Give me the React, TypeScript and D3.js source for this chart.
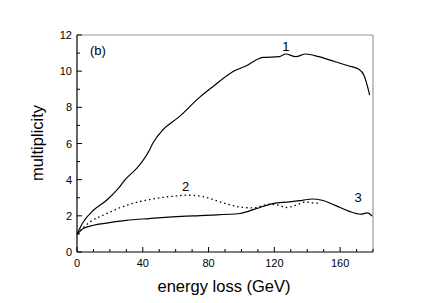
import React from "react";
import * as d3 from "d3";

const curve1X = [0, 3.8, 10, 18, 25, 29, 38, 44, 46, 52, 62, 74.5, 82.6, 94.7, 103, 113, 123, 127, 133, 139, 147, 157, 165, 171.5, 174.5, 178];
const curve1Y = [1.0, 1.66, 2.31, 2.86, 3.5, 3.97, 4.8, 5.63, 6.0, 6.74, 7.47, 8.55, 9.14, 9.97, 10.3, 10.76, 10.8, 10.95, 10.8, 10.95, 10.8, 10.52, 10.3, 10.1, 9.78, 8.68];

const curve2X = [0, 3.8, 7.9, 18, 30, 44, 58, 66, 72, 80, 87, 99, 107, 117, 123, 127, 133, 139, 143, 148];
const curve2Y = [1.0, 1.35, 1.66, 2.12, 2.58, 2.9, 3.08, 3.14, 3.12, 2.98, 2.77, 2.49, 2.44, 2.64, 2.58, 2.46, 2.58, 2.77, 2.72, 2.68];

const curve3X = [0, 3.8, 10, 18, 30, 44, 58, 78, 99, 109, 119, 129, 137, 143, 149, 157, 165.5, 172.5, 176.5, 179.5];
const curve3Y = [0.98, 1.3, 1.48, 1.6, 1.75, 1.85, 1.94, 2.03, 2.13, 2.4, 2.68, 2.77, 2.86, 2.93, 2.86, 2.58, 2.25, 2.09, 2.16, 1.98];

const xTicks = [0, 40, 80, 120, 160];
const yTicks = [0, 2, 4, 6, 8, 10, 12];
const curveLabels = ["1", "2", "3"];
const labelX = [127, 66, 171];
const labelY = [11.1, 3.4, 2.75];

const W = 434, H = 303;
const L = 77, R = 373, T = 35, B = 252;

export default function App() {
  const x = d3.scaleLinear().domain([0, 180]).range([L, R]);
  const y = d3.scaleLinear().domain([0, 12]).range([B, T]);
  const line = d3.line<[number, number]>().x(d => x(d[0])).y(d => y(d[1])).curve(d3.curveMonotoneX);
  const pts = (xs: number[], ys: number[]) => xs.map((v, i) => [v, ys[i]] as [number, number]);
  const font = "'Liberation Sans', Arial, sans-serif";
  const xMinor = d3.range(0, 181, 10);
  const yMinor = d3.range(0, 12.1, 1);
  return (
    <svg width={W} height={H} style={{ position: "absolute", left: 0, top: 0, background: "#fff" }} fontFamily={font}>
      <rect x={0} y={0} width={W} height={H} fill="#fff" />
      <line x1={L} y1={T} x2={R} y2={T} stroke="#999" strokeWidth={1.2} />
      <line x1={R} y1={T} x2={R} y2={B} stroke="#999" strokeWidth={1.2} />
      <line x1={L} y1={T} x2={L} y2={B} stroke="#000" strokeWidth={1.2} />
      <line x1={L} y1={B} x2={R} y2={B} stroke="#000" strokeWidth={1.2} />
      {xMinor.map(v => (
        <line key={"xm" + v} x1={x(v)} x2={x(v)} y1={B} y2={B - (v % 40 === 0 ? 5 : 3)} stroke="#000" strokeWidth={1} />
      ))}
      {yMinor.map(v => (
        <line key={"ym" + v} x1={L} x2={L + (v % 2 === 0 ? 5 : 3)} y1={y(v)} y2={y(v)} stroke="#000" strokeWidth={1} />
      ))}
      {xTicks.map(v => (
        <text key={"xt" + v} x={x(v)} y={B + 15} textAnchor="middle" fontSize={11}>{v}</text>
      ))}
      {yTicks.map(v => (
        <text key={"yt" + v} x={L - 5} y={y(v) + 4} textAnchor="end" fontSize={11}>{v}</text>
      ))}
      <path d={line(pts(curve1X, curve1Y)) || ""} fill="none" stroke="#000" strokeWidth={1.2} />
      <path d={line(pts(curve3X, curve3Y)) || ""} fill="none" stroke="#000" strokeWidth={1.2} />
      <path d={line(pts(curve2X, curve2Y)) || ""} fill="none" stroke="#000" strokeWidth={1.3} strokeDasharray="1.5,3" />
      {curveLabels.map((t, i) => (
        <text key={"cl" + t} x={x(labelX[i])} y={y(labelY[i])} textAnchor="middle" fontSize={13}>{t}</text>
      ))}
      <text x={90} y={55} fontSize={13}>(b)</text>
      <text x={224} y={292} textAnchor="middle" fontSize={16.5}>energy loss (GeV)</text>
      <text transform={`translate(43,143) rotate(-90)`} textAnchor="middle" fontSize={16.5}>multiplicity</text>
    </svg>
  );
}
